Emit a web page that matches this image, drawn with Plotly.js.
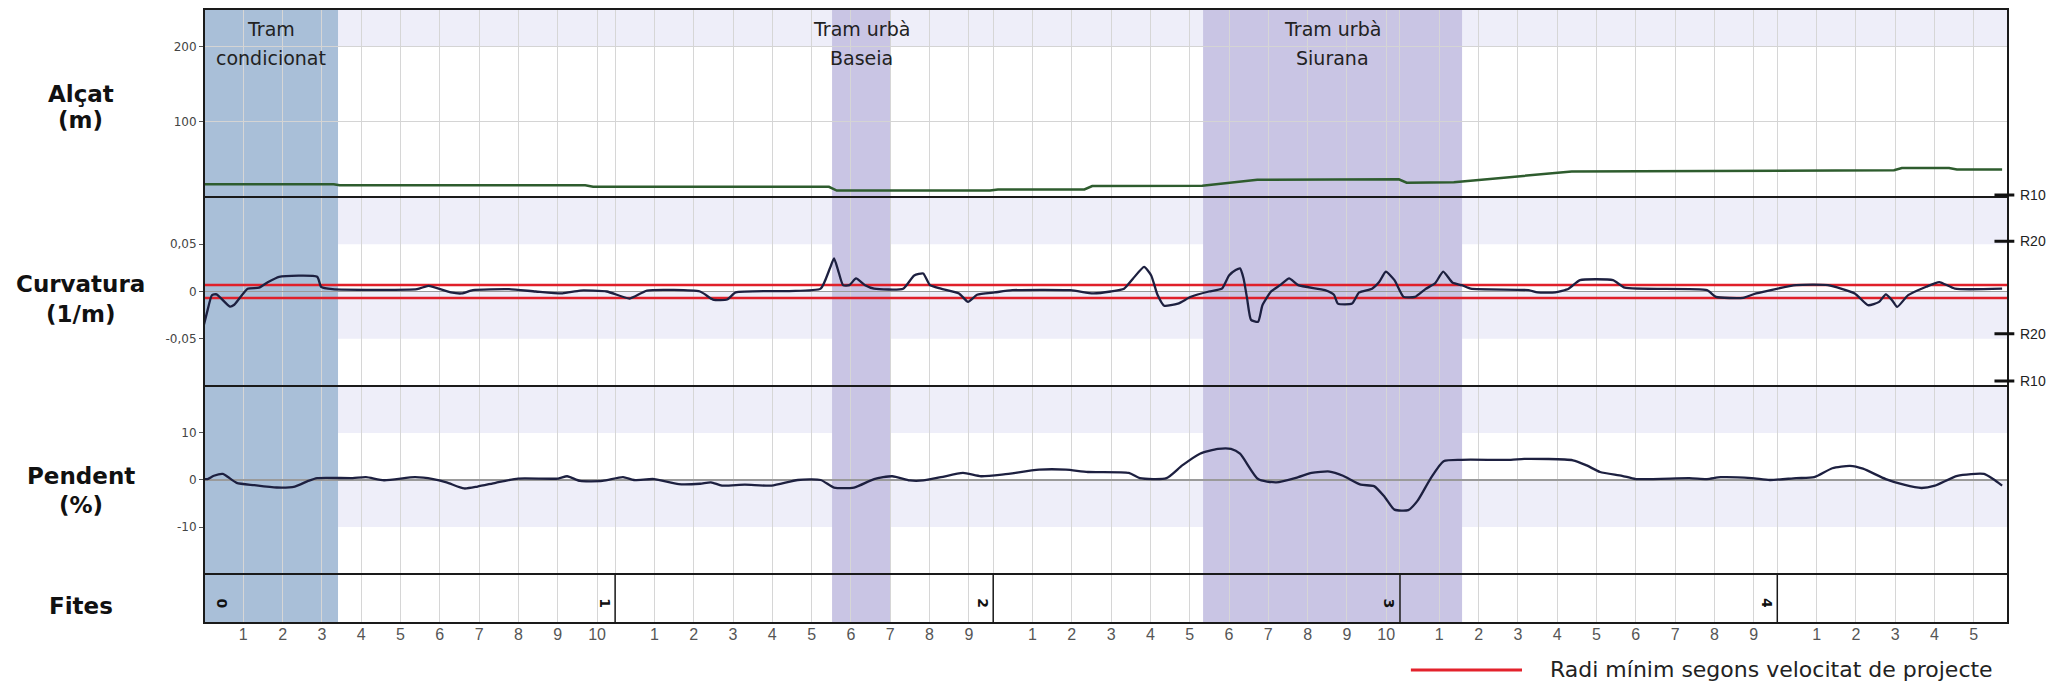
<!DOCTYPE html>
<html><head><meta charset="utf-8">
<script src="https://cdn.plot.ly/plotly-3.0.1.min.js"></script>
<style>html,body{margin:0;padding:0;background:#fff}#chart{width:2052px;height:686px}</style>
</head><body><div id="chart"></div>
<script>
// ---- Data (x = chainage in metres) ----
const altX = [0, 330, 345, 970, 990, 1590, 1610, 2000, 2020, 2240, 2260, 2540, 2680, 3040, 3060, 3180, 3480, 4300, 4320, 4440, 4460, 4575];
const altY = [17, 17, 15.5, 15.5, 13.5, 13.5, 8.5, 8.5, 10, 10, 14.5, 15, 23, 23.5, 19, 19.5, 34, 35.5, 38.5, 38.5, 36.5, 36.5];

const curvX = [0, 9, 20, 32, 66, 77, 111, 140, 163, 191, 288, 298, 327, 542, 571, 628, 656, 684, 776, 844, 912, 957, 1025, 1083, 1127, 1262, 1295, 1331, 1353, 1489, 1569, 1592, 1603, 1613, 1626, 1642, 1659, 1682, 1705, 1779, 1807, 1830, 1847, 1875, 1921, 1944, 1967, 2012, 2057, 2205, 2262, 2307, 2341, 2364, 2392, 2410, 2426, 2443, 2478, 2511, 2557, 2590, 2608, 2625, 2636, 2645, 2654, 2664, 2682, 2693, 2715, 2738, 2761, 2784, 2852, 2875, 2885, 2921, 2939, 2972, 2990, 3007, 3029, 3052, 3081, 3109, 3132, 3153, 3177, 3200, 3223, 3370, 3393, 3438, 3472, 3501, 3585, 3615, 3824, 3847, 3916, 3949, 4051, 4132, 4200, 4234, 4262, 4279, 4295, 4308, 4336, 4382, 4415, 4455, 4575];
const curvY = [-0.035, -0.02, -0.004, -0.003, -0.016, -0.014, 0.003, 0.004, 0.010, 0.0156, 0.0156, 0.005, 0.0025, 0.0025, 0.006, -0.001, -0.002, 0.0015, 0.0025, 0, -0.002, 0.001, 0, -0.0075, 0.001, 0, -0.0085, -0.0085, -0.001, 0.0005, 0.003, 0.024, 0.035, 0.023, 0.0067, 0.0067, 0.0138, 0.0067, 0.003, 0.003, 0.017, 0.019, 0.0067, 0.003, -0.002, -0.011, -0.0035, -0.001, 0.0014, 0.0014, -0.002, 0, 0.003, 0.0138, 0.026, 0.017, -0.0035, -0.015, -0.0128, -0.0056, 0, 0.003, 0.017, 0.0227, 0.0245, 0.0138, -0.0075, -0.030, -0.032, -0.0145, 0, 0.0067, 0.0138, 0.0067, 0.0014, -0.0035, -0.0128, -0.0128, -0.001, 0.003, 0.010, 0.021, 0.012, -0.0057, -0.0057, 0.003, 0.0085, 0.021, 0.0092, 0.0067, 0.003, 0.0014, -0.001, -0.001, 0.003, 0.012, 0.012, 0.004, 0.0014, -0.0057, -0.0067, -0.002, 0.0067, 0.0067, -0.002, -0.0145, -0.011, -0.003, -0.0092, -0.0163, -0.0039, 0.005, 0.010, 0.003, 0.003];

const slopeX = [0, 9, 25, 48, 60, 83, 128, 185, 231, 265, 288, 378, 412, 458, 537, 583, 617, 662, 696, 742, 799, 901, 924, 957, 1014, 1066, 1094, 1145, 1208, 1262, 1290, 1318, 1376, 1444, 1511, 1569, 1603, 1654, 1705, 1751, 1796, 1830, 1875, 1931, 1977, 2035, 2125, 2193, 2249, 2353, 2381, 2449, 2489, 2534, 2580, 2613, 2636, 2682, 2728, 2784, 2818, 2864, 2898, 2943, 2977, 3005, 3029, 3064, 3087, 3120, 3154, 3200, 3325, 3359, 3483, 3518, 3552, 3608, 3643, 3779, 3824, 3859, 3938, 3984, 4051, 4097, 4143, 4188, 4221, 4279, 4325, 4370, 4404, 4461, 4529, 4552, 4575];
const slopeY = [0.2, 0.2, 0.9, 1.3, 0.7, -0.6, -1.1, -1.6, -1.4, -0.2, 0.4, 0.4, 0.6, -0.05, 0.6, 0.2, -0.5, -1.8, -1.4, -0.6, 0.3, 0.3, 0.8, -0.2, -0.2, 0.6, 0, 0.2, -0.9, -0.8, -0.5, -1.2, -1.0, -1.2, 0, 0, -1.6, -1.6, 0.2, 0.8, -0.1, -0.1, 0.6, 1.5, 0.8, 1.2, 2.2, 2.2, 1.7, 1.5, 0.4, 0.4, 3.1, 5.6, 6.6, 6.6, 5.6, 0.2, -0.5, 0.6, 1.5, 1.8, 0.9, -1.0, -1.3, -3.7, -6.3, -6.4, -4.5, 0.2, 4.0, 4.3, 4.3, 4.5, 4.2, 3.1, 1.7, 0.9, 0.2, 0.4, 0.2, 0.6, 0.4, 0, 0.4, 0.6, 2.5, 3.0, 2.4, 0.2, -1.0, -1.7, -1.2, 0.9, 1.3, 0.2, -1.2];

const kmMarkers = [0, 1046, 2008, 3043, 4003];
const kmLabels = ['0', '1', '2', '3', '4'];
const hmCounts = [10, 9, 10, 9, 5];
const routeEnd = 4590;

const zoneStart = [0, 1598, 2542];
const zoneEnd = [341, 1746, 3201];
const zoneLine1 = ['Tram', 'Tram urbà', 'Tram urbà'];
const zoneLine2 = ['condicionat', 'Baseia', 'Siurana'];

const minCurv = [0.007, -0.007];
const radiusLabels = ['R10', 'R20', 'R20', 'R10'];
const radiusCurv = [0.1, 0.05, -0.05, -0.1];
const panelLabels = [['Alçat', '(m)'], ['Curvatura', '(1/m)'], ['Pendent', '(%)'], ['Fites']];
const legendText = 'Radi mínim segons velocitat de projecte';

// ---- Layout geometry ----
const D = {alt: [0.6938, 1], curv: [0.386, 0.6938], slope: [0.0798, 0.386], fites: [0, 0.0798]};
const curvRange = [-0.1, 0.1];
const labelY = [[0.8612, 0.8186], [0.5521, 0.5033], [0.2388, 0.1922], [0.0277]];
const rShift = [2, 3, 5, 5];

// x ticks
const tickvals = [], ticktext = [];
kmMarkers.forEach((m, i) => {
  tickvals.push(m); ticktext.push('');
  for (let n = 1; n <= hmCounts[i]; n++) { tickvals.push(m + n * 100); ticktext.push(String(n)); }
});

const navy = '#1d2040';
const traces = [
  {x: altX, y: altY, xaxis: 'x', yaxis: 'y', mode: 'lines', line: {color: '#2e5c2e', width: 2.5}, hoverinfo: 'skip'},
  {x: [0, routeEnd], y: [minCurv[0], minCurv[0]], xaxis: 'x', yaxis: 'y2', mode: 'lines', line: {color: '#e0202a', width: 2.5}, hoverinfo: 'skip'},
  {x: [0, routeEnd], y: [minCurv[1], minCurv[1]], xaxis: 'x', yaxis: 'y2', mode: 'lines', line: {color: '#e0202a', width: 2.5}, hoverinfo: 'skip'},
  {x: curvX, y: curvY, xaxis: 'x', yaxis: 'y2', mode: 'lines', line: {color: navy, width: 2.3, shape: 'spline', smoothing: 0.5}, hoverinfo: 'skip'},
  {x: slopeX, y: slopeY, xaxis: 'x', yaxis: 'y3', mode: 'lines', line: {color: navy, width: 2.3, shape: 'spline', smoothing: 0.6}, hoverinfo: 'skip'},
  {x: [], y: [], xaxis: 'x', yaxis: 'y4', mode: 'lines', hoverinfo: 'skip'}
];

const tickFont = {family: 'DejaVu Sans, sans-serif', size: 12, color: '#444'};
const yCommon = {anchor: 'x', showline: false, ticks: 'outside', ticklen: 4, tickcolor: '#555', tickfont: tickFont, gridcolor: '#d4d4d4', fixedrange: true};

const layout = {
  width: 2052, height: 686,
  margin: {l: 204, r: 44, t: 9, b: 63, pad: 0},
  paper_bgcolor: '#fff', plot_bgcolor: 'rgba(0,0,0,0)',
  showlegend: false,
  font: {family: 'DejaVu Sans, sans-serif', color: '#222'},
  xaxis: {domain: [0, 1], anchor: 'y4', range: [0, routeEnd], tickmode: 'array', tickvals: tickvals, ticktext: ticktext,
    ticks: '', showgrid: true, gridcolor: '#d6d6d6', gridwidth: 1, zeroline: false, showline: false,
    tickfont: {family: 'Liberation Sans, Arial, sans-serif', size: 16, color: '#555'}, fixedrange: true},
  yaxis: Object.assign({}, yCommon, {domain: D.alt, range: [0, 250], tickvals: [100, 200], ticktext: ['100', '200'], showgrid: true, zeroline: false}),
  yaxis2: Object.assign({}, yCommon, {domain: D.curv, range: curvRange, tickvals: [-0.05, 0, 0.05], ticktext: ['-0,05', '0', '0,05'], showgrid: false, zeroline: true, zerolinecolor: '#9a9a9a', zerolinewidth: 1.5}),
  yaxis3: Object.assign({}, yCommon, {domain: D.slope, range: [-20, 20], tickvals: [-10, 0, 10], ticktext: ['-10', '0', '10'], showgrid: false, zeroline: true, zerolinecolor: '#9a9a9a', zerolinewidth: 1.5}),
  yaxis4: {domain: D.fites, anchor: 'x', range: [0, 1], showticklabels: false, ticks: '', showgrid: false, zeroline: false, fixedrange: true},
  shapes: [], annotations: []
};

const band = '#eeeef9';
[['y', 200, 250], ['y2', 0.05, 0.1], ['y2', -0.05, 0], ['y3', 10, 20], ['y3', -10, 0]].forEach(b => {
  layout.shapes.push({type: 'rect', layer: 'below', xref: 'paper', x0: 0, x1: 1, yref: b[0], y0: b[1], y1: b[2], fillcolor: band, line: {width: 0}});
});
// zones
const zoneColors = ['#a9bfd8', '#c9c5e4', '#c9c5e4'];
const zoneFont = {family: 'DejaVu Sans, sans-serif', size: 19, color: '#222'};
zoneStart.forEach((s, i) => {
  layout.shapes.push({type: 'rect', layer: 'below', xref: 'x', x0: s, x1: zoneEnd[i], yref: 'paper', y0: 0, y1: 1, fillcolor: zoneColors[i], line: {width: 0}});
  layout.annotations.push({xref: 'x', x: (s + zoneEnd[i]) / 2, yref: 'paper', y: 0.9674, text: zoneLine1[i], showarrow: false, font: zoneFont, xanchor: 'center', yanchor: 'middle'});
  layout.annotations.push({xref: 'x', x: (s + zoneEnd[i]) / 2, yref: 'paper', y: 0.9202, text: zoneLine2[i], showarrow: false, font: zoneFont, xanchor: 'center', yanchor: 'middle'});
});
// panel borders
Object.values(D).forEach(d => {
  layout.shapes.push({type: 'rect', layer: 'above', xref: 'paper', x0: 0, x1: 1, yref: 'paper', y0: d[0], y1: d[1], line: {color: '#1a1a1a', width: 2}});
});
// km markers in Fites panel
kmMarkers.forEach((m, i) => {
  if (i > 0) layout.shapes.push({type: 'line', layer: 'above', xref: 'x', x0: m, x1: m, yref: 'paper', y0: D.fites[0], y1: D.fites[1], line: {color: '#1a1a1a', width: 1.5}});
  layout.annotations.push({xref: 'x', x: m, xshift: i === 0 ? 18 : -11, yref: 'paper', y: (D.fites[0] + D.fites[1]) * 0.4, text: '<b>' + kmLabels[i] + '</b>', textangle: 90,
    showarrow: false, font: {family: 'DejaVu Sans, sans-serif', size: 14, color: '#111'}, xanchor: 'center', yanchor: 'middle'});
});
// radius labels on the right (paper-referenced so the ticks are not clipped)
radiusCurv.forEach((v, i) => {
  const py = D.curv[0] + (v - curvRange[0]) / (curvRange[1] - curvRange[0]) * (D.curv[1] - D.curv[0]);
  layout.shapes.push({type: 'line', layer: 'above', xref: 'paper', x0: 0.9925, x1: 1.0035, yref: 'paper', ysizemode: 'pixel', yanchor: py, y0: rShift[i], y1: rShift[i], line: {color: '#111', width: 3}});
  layout.annotations.push({xref: 'paper', x: 1.0055, yref: 'paper', y: py, yshift: rShift[i], text: radiusLabels[i], showarrow: false, xanchor: 'left', yanchor: 'middle',
    font: {family: 'Liberation Sans, Arial, sans-serif', size: 14, color: '#222'}});
});
// left labels
const leftFont = {family: 'DejaVu Sans, sans-serif', size: 23, color: '#111'};
panelLabels.forEach((lines, i) => {
  lines.forEach((t, j) => {
    layout.annotations.push({xref: 'paper', x: -0.0682, yref: 'paper', y: labelY[i][j], text: '<b>' + t + '</b>', showarrow: false,
      xanchor: 'center', yanchor: 'middle', font: leftFont});
  });
});
// legend
layout.shapes.push({type: 'line', xref: 'paper', yref: 'paper', x0: 0.669, x1: 0.7306, y0: -0.0765, y1: -0.0765, line: {color: '#e3222c', width: 3}});
layout.annotations.push({xref: 'paper', yref: 'paper', x: 0.745, y: -0.0765, text: legendText, showarrow: false, xanchor: 'left', yanchor: 'middle',
  font: {family: 'DejaVu Sans, sans-serif', size: 22, color: '#222'}});

Plotly.newPlot('chart', traces, layout, {displayModeBar: false, staticPlot: true});
</script>
</body></html>
